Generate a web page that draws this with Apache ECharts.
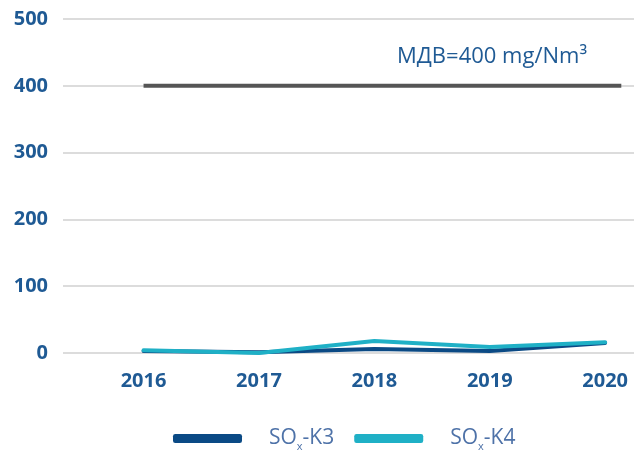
<!DOCTYPE html>
<html>
<head>
<meta charset="utf-8">
<script src="https://cdn.jsdelivr.net/npm/echarts@6/dist/echarts.min.js"></script>
<style>html,body{margin:0;padding:0;background:#fff}#c{width:634px;height:450px}</style>
</head>
<body>
<div id="c"></div>
<script>
const years = [2016, 2017, 2018, 2019, 2020];
const soxK3 = [3, 1, 6, 3, 15];
const soxK4 = [4, 0, 18, 9, 16];
const limitValue = 400;
const limitSpan = [2016, 2020.14];
const yTicks = [0, 100, 200, 300, 400, 500];
const limitText = 'МДВ=400 mg/Nm³';

const chart = echarts.init(document.getElementById('c'), null, {renderer: 'canvas'});
const labelColor = '#1f5a94';
const legendColor = '#4e72a8';
const font = 'Open Sans';
chart.setOption({
  animation: false,
  grid: {left: 63, right: 0, top: 19, bottom: 97, containLabel: false},
  xAxis: {
    type: 'value', min: 2015.302, max: 2020.25,
    axisLine: {show: false}, axisTick: {show: false}, splitLine: {show: false},
    axisLabel: {customValues: years, color: labelColor, fontFamily: font, fontWeight: 'bold', fontSize: 20, margin: 18, formatter: v => String(v)}
  },
  yAxis: {
    type: 'value', min: yTicks[0], max: yTicks[yTicks.length - 1], interval: 100,
    axisLine: {show: false}, axisTick: {show: false},
    axisLabel: {color: labelColor, fontFamily: font, fontWeight: 'bold', fontSize: 20, margin: 15},
    splitLine: {lineStyle: {color: '#dcdcdc', width: 2}}
  },
  legend: {
    data: ['K3', 'K4'], top: 423, left: 168, itemWidth: 69, itemHeight: 9, itemGap: 20,
    icon: 'roundRect',
    textStyle: {
      fontFamily: font, fontSize: 21, color: legendColor, padding: [0, 0, 0, 22],
      rich: {
        t: {fontFamily: font, fontSize: 21, color: legendColor},
        s: {fontFamily: font, fontSize: 11, color: legendColor, verticalAlign: 'bottom', padding: [16, 0, 0, 0]}
      }
    },
    formatter: n => '{t|SO}{s|x}{t|-' + n + '}'
  },
  graphic: [{
    type: 'text', left: 397, top: 46,
    style: {text: limitText, fill: labelColor, font: '22px "Open Sans"'}
  }],
  series: [
    {
      name: 'limit', type: 'line', symbol: 'none',
      data: limitSpan.map(x => [x, limitValue]),
      lineStyle: {color: '#555555', width: 4}, itemStyle: {color: '#555555'}
    },
    {
      name: 'K3', type: 'line', symbol: 'none',
      data: years.map((y, i) => [y, soxK3[i]]),
      lineStyle: {color: '#0b4a85', width: 4, cap: 'round'}, itemStyle: {color: '#0b4a85'}
    },
    {
      name: 'K4', type: 'line', symbol: 'none',
      data: years.map((y, i) => [y, soxK4[i]]),
      lineStyle: {color: '#1fb0c6', width: 4, cap: 'round'}, itemStyle: {color: '#1fb0c6'}
    }
  ]
});
</script>
</body>
</html>
